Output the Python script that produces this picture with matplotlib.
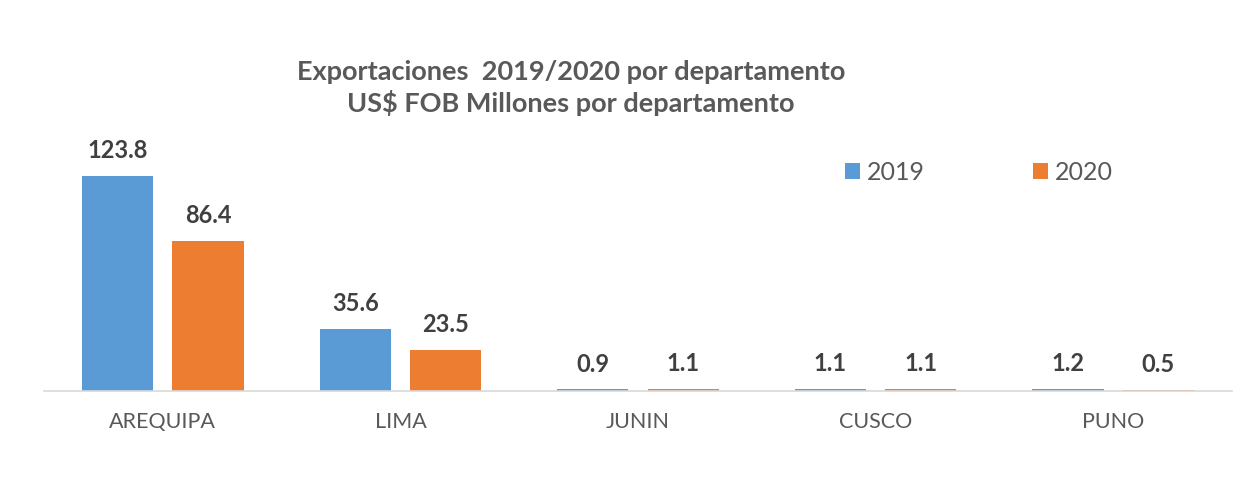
import numpy as np
import matplotlib.pyplot as plt

# Exportaciones por departamento (US$ FOB millones)
departamentos = ['AREQUIPA', 'LIMA', 'JUNIN', 'CUSCO', 'PUNO']
valores_2019 = [123.8, 35.6, 0.9, 1.1, 1.2]
valores_2020 = [86.4, 23.5, 1.1, 1.1, 0.5]
series = ['2019', '2020']

plt.rcParams['font.family'] = ['Lato', 'DejaVu Sans']
gris = '#595959'
azul = '#5B9BD5'
naranja = '#ED7D31'

fig = plt.figure(figsize=(12.52, 4.95), dpi=100)
ax = fig.add_axes([44 / 1252, 104 / 495, 1188 / 1252, 243 / 495])

x = np.arange(len(departamentos))
ancho = 0.30
desp = 0.19
b1 = ax.bar(x - desp, valores_2019, ancho, color=azul, label=series[0])
b2 = ax.bar(x + desp, valores_2020, ancho, color=naranja, label=series[1])

for barras in (b1, b2):
    for b in barras:
        ax.annotate(f'{b.get_height():.1f}', (b.get_x() + b.get_width() / 2, b.get_height()),
                    xytext=(0, 10), textcoords='offset points', ha='center', va='bottom',
                    fontsize=17, fontweight='bold', color='#404040')

ax.set_xlim(-0.5, len(departamentos) - 0.5)
ax.set_ylim(0, 140)
ax.set_xticks(x)
ax.set_xticklabels(departamentos, fontsize=15.5, color=gris)
ax.tick_params(axis='x', length=0, pad=15)
ax.set_yticks([])
for lado in ['top', 'right', 'left']:
    ax.spines[lado].set_visible(False)
ax.spines['bottom'].set_color('#D9D9D9')
ax.spines['bottom'].set_linewidth(1.2)

fig.text(0.456, 0.855, 'Exportaciones  2019/2020 por departamento', ha='center', va='center',
         fontsize=19.5, fontweight='bold', color=gris)
fig.text(0.456, 0.792, 'US$ FOB Millones por departamento', ha='center', va='center',
         fontsize=19.5, fontweight='bold', color=gris)

leg = fig.legend(loc='center', bbox_to_anchor=(0.782, 0.652), ncol=2, frameon=False,
                 fontsize=18, handlelength=0.6, handleheight=0.6, handletextpad=0.3,
                 columnspacing=4.3)
for t in leg.get_texts():
    t.set_color(gris)

fig.savefig('out.png', dpi=100)
